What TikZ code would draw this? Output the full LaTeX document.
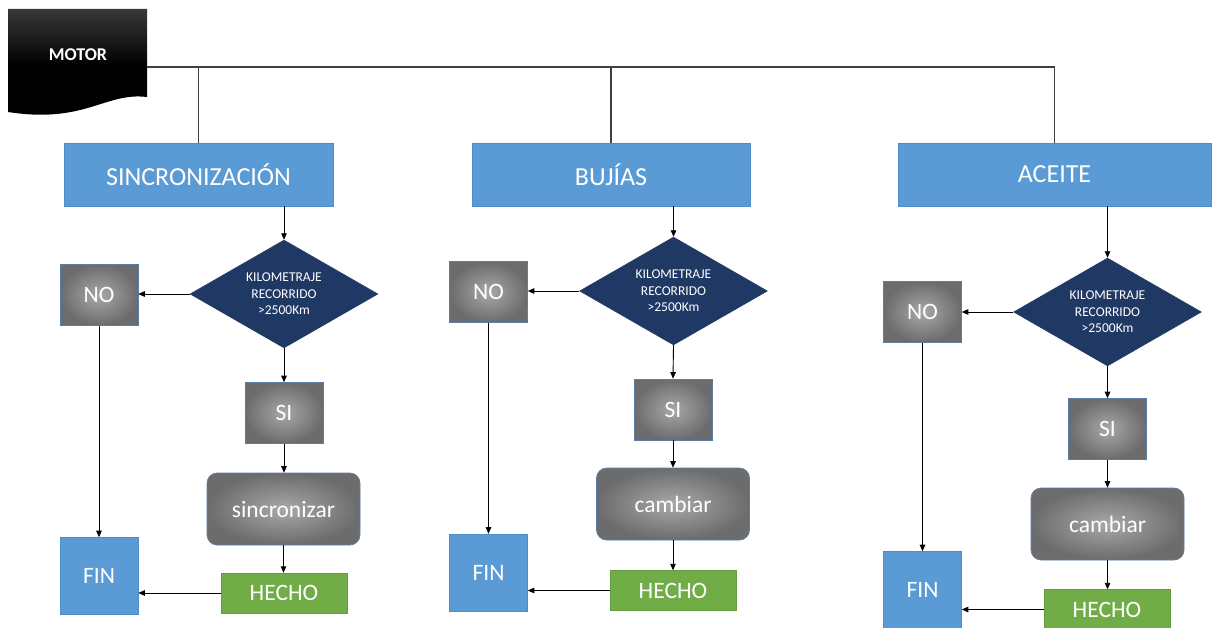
\documentclass[tikz,border=0pt]{standalone}
\usepackage{fontspec}
\setmainfont{Carlito}
\usetikzlibrary{shapes.geometric,arrows.meta}
\definecolor{boxblue}{HTML}{5B9BD5}
\definecolor{boxblueedge}{HTML}{4E8CCB}
\definecolor{navy}{HTML}{203864}
\definecolor{hgreen}{HTML}{70AD47}
\definecolor{grayedge}{HTML}{5A7FA6}
\definecolor{trunkgray}{HTML}{3F3F3F}
\definecolor{graymid}{HTML}{A8A8A8}
\definecolor{grayout}{HTML}{6C6C6C}
\begin{document}
\begin{tikzpicture}[x=1pt,y=-1pt,
  titlebox/.style={rectangle, fill=boxblue, draw=boxblueedge, line width=0.6pt, text=white, inner sep=0pt, minimum height=63pt, font=\fontsize{26}{30}\selectfont},
  decbox/.style={diamond, fill=navy, draw=navy, text=white, inner sep=-20pt, minimum width=188pt, minimum height=108pt, align=center, font=\fontsize{13.5}{16.5}\selectfont},
  graybox/.style={rectangle, shading=radial, inner color=graymid, outer color=grayout, draw=grayedge, line width=0.6pt, text=white, inner sep=0pt, minimum width=78pt, minimum height=61pt, font=\fontsize{23.5}{28}\selectfont},
  actbox/.style={rectangle, rounded corners=10pt, shading=radial, inner color=graymid, outer color=grayout, draw=grayedge, line width=0.6pt, text=white, inner sep=0pt, minimum width=153pt, minimum height=72pt, font=\fontsize{23.5}{28}\selectfont},
  donebox/.style={rectangle, fill=hgreen, draw=hgreen!90!black, line width=0.4pt, text=white, inner sep=0pt, minimum width=126pt, minimum height=40pt, font=\fontsize{23.5}{28}\selectfont},
  finbox/.style={rectangle, fill=boxblue, draw=boxblueedge, line width=0.6pt, text=white, inner sep=0pt, minimum width=78pt, minimum height=77pt, font=\fontsize{23.5}{28}\selectfont},
  arr/.style={-{Triangle[length=6.5pt,width=5.5pt]}, line width=0.9pt, black},
  trunk/.style={line width=1.5pt, trunkgray}
]
\useasboundingbox (0,0) rectangle (1217,628);
\fill[white] (0,0) rectangle (1217,628);

% MOTOR document shape
\shade[top color=black!78, bottom color=black, middle color=black]
  (8,9) -- (147,9) -- (147,97) .. controls (105,92) and (85,124) .. (8,112) -- cycle;
\node[text=white, font=\fontsize{18}{20}\selectfont\bfseries] (motor) at (78,55) {MOTOR};
\coordinate (m) at (147,67);

% column titles
\node[titlebox, minimum width=269pt] (s1) at (198.5,174.5) {SINCRONIZACIÓN};
\node[titlebox, minimum width=278pt] (s2) at (611,174.5) {BUJÍAS};
\node[titlebox, minimum width=313pt] (s3) at (1054.5,174.5) {ACEITE};

% trunk
\draw[trunk] (m) -- (s3.north |- m) -- (s3.north);
\draw[trunk] (s1.north |- m) -- (s1.north);
\draw[trunk] (s2.north |- m) -- (s2.north);

% decisions
\node[decbox] (d1) at (284,294) {KILOMETRAJE\\RECORRIDO\\>2500Km};
\node[decbox] (d2) at (673.5,291) {KILOMETRAJE\\RECORRIDO\\>2500Km};
\node[decbox] (d3) at (1107.5,312) {KILOMETRAJE\\RECORRIDO\\>2500Km};

% NO
\node[graybox] (n1) at (99,295) {NO};
\node[graybox] (n2) at (488.5,292) {NO};
\node[graybox] (n3) at (922.5,312) {NO};

% SI
\node[graybox] (si1) at (284,413) {SI};
\node[graybox] (si2) at (673,409.5) {SI};
\node[graybox] (si3) at (1107.5,429) {SI};

% actions
\node[actbox] (a1) at (283.5,509) {sincronizar};
\node[actbox] (a2) at (673,504) {cambiar};
\node[actbox] (a3) at (1107.5,524) {cambiar};

% HECHO
\node[donebox] (h1) at (284,593) {HECHO};
\node[donebox] (h2) at (673,590.5) {HECHO};
\node[donebox] (h3) at (1107,609.5) {HECHO};

% FIN
\node[finbox] (f1) at (99,576) {FIN};
\node[finbox] (f2) at (488.5,572.5) {FIN};
\node[finbox] (f3) at (922.5,590) {FIN};

% connectors
\foreach \i in {1,2,3}{
  \draw[arr] (d\i.north |- s\i.south) -- (d\i.north);
  \draw[arr] (d\i.west) -- (d\i.west -| n\i.east);
  \draw[arr] (d\i.south) -- (si\i.north);
  \draw[arr] (si\i.south) -- (si\i.south |- a\i.north);
  \draw[arr] (a\i.south) -- (a\i.south |- h\i.north);
  \draw[arr] (h\i.west) -- (h\i.west -| f\i.east);
  \draw[arr] (n\i.south) -- (f\i.north);
}
\end{tikzpicture}
\end{document}
